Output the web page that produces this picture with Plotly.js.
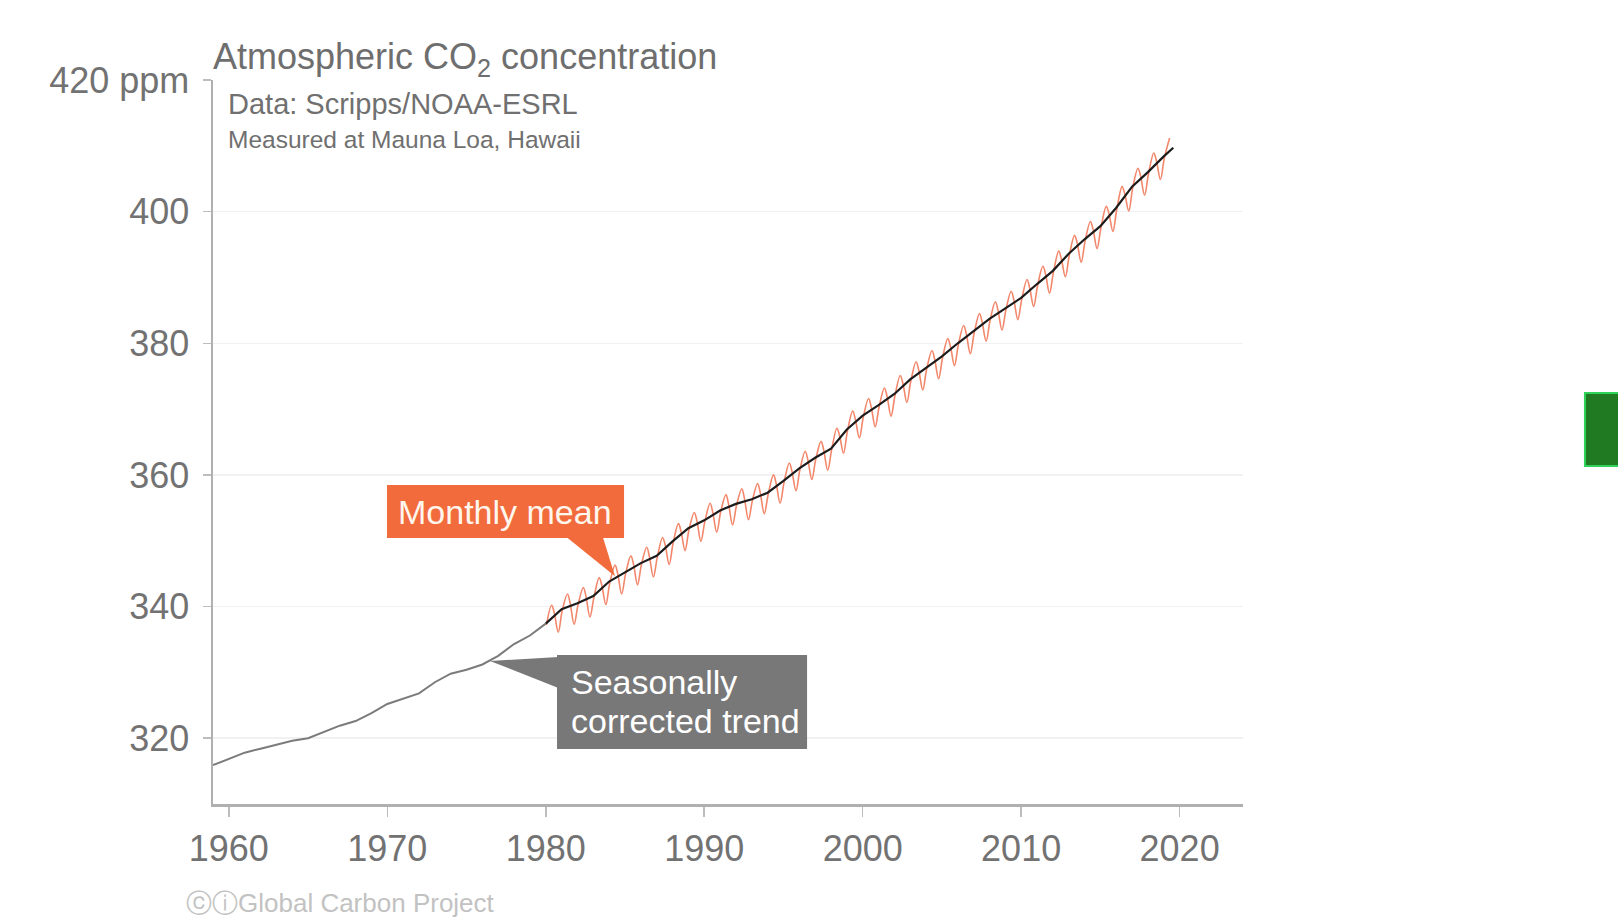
<!DOCTYPE html>
<html>
<head>
<meta charset="utf-8">
<script src="https://cdn.plot.ly/plotly-3.0.1.min.js"></script>
<style>html,body{margin:0;padding:0;background:#fff;}#chart{width:1618px;height:919px;}</style>
</head>
<body>
<div id="chart"></div>
<script>
// Seasonally corrected trend (January of each year, ppm)
const trendYears = [1959,1960,1961,1962,1963,1964,1965,1966,1967,1968,1969,1970,1971,1972,1973,1974,1975,1976,1977,1978,1979,1980,
  1981,1982,1983,1984,1985,1986,1987,1988,1989,1990,1991,1992,1993,1994,1995,1996,1997,1998,1999,2000,
  2001,2002,2003,2004,2005,2006,2007,2008,2009,2010,2011,2012,2013,2014,2015,2016,2017,2018,2019,2019.6];
const trendValues = [315.9,316.9,317.8,318.4,319.0,319.6,320.0,320.9,321.9,322.6,323.8,325.2,326.0,326.8,328.5,329.8,330.4,331.2,332.5,334.3,335.6,337.4,
  339.6,340.5,341.6,343.8,345.2,346.6,347.7,349.9,351.9,353.1,354.6,355.6,356.3,357.3,359.1,361.0,362.6,364.0,366.9,369.0,
  370.6,372.3,374.5,376.3,378.0,380.0,381.8,383.7,385.3,386.9,389.0,391.0,393.6,395.8,397.8,400.6,403.8,406.0,408.4,409.7];

// Monthly mean samples (ppm) for 1980-2019 at January, May (peak), July, October (trough)
const monthlyFirstYear = 1980;
const monthFractions = [0.04, 0.37, 0.54, 0.79];
const monthlyJan = [337.2,339.4,340.3,341.4,343.6,345.0,346.4,347.5,349.7,351.7,352.9,354.4,355.4,356.1,357.1,358.9,360.8,362.4,363.8,366.7,
  368.8,370.4,372.1,374.3,376.1,377.8,379.8,381.6,383.5,385.1,386.7,388.8,390.8,393.4,395.6,397.6,400.4,403.6,405.8,408.2];
const monthlyMay = [340.2,341.9,342.9,344.4,346.3,347.7,349.0,350.5,352.6,354.3,355.7,357.0,357.9,358.7,360.0,361.8,363.6,365.1,367.1,369.7,
  371.6,373.2,375.1,377.2,378.9,380.7,382.7,384.5,386.3,387.9,389.7,391.7,394.0,396.4,398.5,400.8,403.8,406.6,408.9,411.2];
const monthlyJul = [339.0,340.5,341.5,343.2,345.0,346.4,347.6,349.3,351.4,353.0,354.3,355.5,356.4,357.2,358.7,360.5,362.3,363.8,366.0,368.4,
  370.3,371.9,373.9,375.9,377.6,379.5,381.4,383.2,385.0,386.6,388.4,390.5,392.8,395.2,397.3,399.7,402.7,405.4,407.7];
const monthlyOct = [336.1,337.3,338.4,340.3,341.9,343.3,344.5,346.4,348.5,349.9,351.3,352.4,353.2,354.1,355.7,357.6,359.3,360.7,363.3,365.6,
  367.3,368.9,371.0,372.9,374.6,376.6,378.4,380.3,382.0,383.6,385.6,387.6,390.1,392.3,394.4,397.0,400.1,402.5,404.9];

const xTicks = [1960,1970,1980,1990,2000,2010,2020];
const yTicks = [320,340,360,380,400,420];
const yTickText = ['320','340','360','380','400','420 ppm'];

// build monthly series in time order
const monthlySets = [monthlyJan, monthlyMay, monthlyJul, monthlyOct];
const mX = [], mY = [];
for (let i = 0; i < monthlyJan.length; i++) {
  for (let k = 0; k < 4; k++) {
    const v = monthlySets[k][i];
    if (v !== undefined) { mX.push(monthlyFirstYear + i + monthFractions[k]); mY.push(v); }
  }
}
const split = trendYears.indexOf(1980);
const earlyX = trendYears.slice(0, split + 1), earlyY = trendValues.slice(0, split + 1);
const lateX = trendYears.slice(split), lateY = trendValues.slice(split);

const FONT = 'Liberation Sans, Arial, Helvetica, sans-serif';
const GREY = '#727272';

const traces = [
  {x: earlyX, y: earlyY, mode: 'lines', line: {color: '#7b7b7b', width: 2}, hoverinfo: 'skip'},
  {x: mX, y: mY, mode: 'lines', line: {color: '#f2876b', width: 1.6, shape: 'spline', smoothing: 1}, hoverinfo: 'skip'},
  {x: lateX, y: lateY, mode: 'lines', line: {color: '#1c1c1c', width: 2.2}, hoverinfo: 'skip'}
];

const layout = {
  width: 1618, height: 919,
  margin: {l: 213, r: 375, t: 80, b: 115},
  paper_bgcolor: '#ffffff', plot_bgcolor: '#ffffff',
  showlegend: false,
  font: {family: FONT, color: GREY},
  xaxis: {
    range: [1959, 2024], tickvals: xTicks, ticktext: xTicks.map(String),
    ticks: 'outside', ticklen: 10, tickwidth: 1.5, tickcolor: '#bdbdbd',
    showline: true, linecolor: '#b0b0b0', linewidth: 2.5,
    showgrid: false, zeroline: false,
    tickfont: {size: 36, color: GREY, family: FONT}, ticklabelstandoff: 1
  },
  yaxis: {
    range: [310, 420], tickvals: yTicks, ticktext: yTickText,
    ticks: 'outside', ticklen: 8, tickwidth: 1.5, tickcolor: '#bdbdbd',
    showline: true, linecolor: '#b0b0b0', linewidth: 2.5,
    showgrid: true, gridcolor: '#f1f1f1', gridwidth: 1.5, zeroline: false,
    tickfont: {size: 36, color: GREY, family: FONT}, ticklabelstandoff: 6
  },
  shapes: [
    {type: 'rect', xref: 'x', yref: 'y', x0: 1969.98, x1: 1984.94, y0: 350.42, y1: 358.47, fillcolor: '#f26b3c', line: {width: 0}, layer: 'above'},
    {type: 'path', xref: 'x', yref: 'y', path: 'M 1981.34 350.5 L 1983.61 350.5 L 1984.37 344.6 Z', fillcolor: '#f26b3c', line: {width: 0}, layer: 'above'},
    {type: 'rect', xref: 'x', yref: 'y', x0: 1980.71, x1: 1996.49, y0: 318.36, y1: 332.64, fillcolor: '#787878', line: {width: 0}, layer: 'above'},
    {type: 'path', xref: 'x', yref: 'y', path: 'M 1980.8 332.34 L 1980.8 327.63 L 1976.48 331.73 Z', fillcolor: '#787878', line: {width: 0}, layer: 'above'},
    {type: 'rect', xref: 'paper', yref: 'paper', x0: 1.332, x1: 1.40, y0: 0.4669, y1: 0.5677, fillcolor: '#1f7a22', line: {color: '#2fd35a', width: 2}}
  ],
  annotations: [
    {xref: 'paper', yref: 'paper', x: -0.002, y: 1.029, xanchor: 'left', yanchor: 'middle', showarrow: false,
     text: 'Atmospheric CO<sub>2</sub> concentration', font: {size: 36, color: '#6e6e6e', family: FONT}},
    {xref: 'paper', yref: 'paper', x: 0.013, y: 0.9669, xanchor: 'left', yanchor: 'middle', showarrow: false,
     text: 'Data: Scripps/NOAA-ESRL', font: {size: 29, color: '#707070', family: FONT}},
    {xref: 'paper', yref: 'paper', x: 0.013, y: 0.9185, xanchor: 'left', yanchor: 'middle', showarrow: false,
     text: 'Measured at Mauna Loa, Hawaii', font: {size: 24.5, color: '#707070', family: FONT}},
    {xref: 'paper', yref: 'paper', x: 0.2835, y: 0.4033, xanchor: 'center', yanchor: 'middle', showarrow: false,
     text: 'Monthly mean', font: {size: 34, color: '#fff6ee', family: FONT}},
    {xref: 'paper', yref: 'paper', x: 0.3455, y: 0.1685, xanchor: 'left', yanchor: 'middle', showarrow: false,
     text: 'Seasonally', font: {size: 34, color: '#ffffff', family: FONT}},
    {xref: 'paper', yref: 'paper', x: 0.3455, y: 0.1146, xanchor: 'left', yanchor: 'middle', showarrow: false,
     text: 'corrected trend', font: {size: 34, color: '#ffffff', family: FONT}},
    {xref: 'paper', yref: 'paper', x: -0.0282, y: -0.1367, xanchor: 'left', yanchor: 'middle', showarrow: false,
     text: 'ⓒⓘGlobal Carbon Project', font: {size: 26, color: '#c2c2c2', family: FONT}}
  ]
};

Plotly.newPlot('chart', traces, layout, {displayModeBar: false, staticPlot: true});
</script>
</body>
</html>
